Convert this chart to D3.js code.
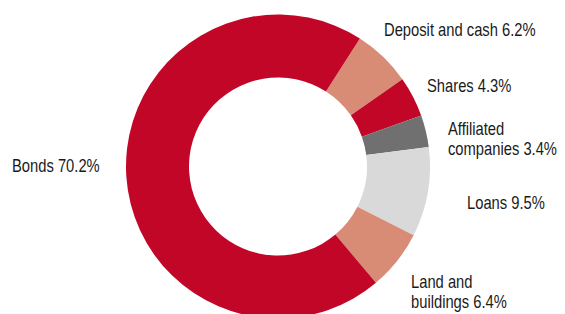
<!DOCTYPE html>
<html lang="en">
<head>
<meta charset="utf-8">
<title>Investment portfolio donut</title>
<script src="https://d3js.org/d3.v7.min.js"></script>
<style>
  body { margin: 0; background: #fff; }
  text { font-family: "Liberation Sans", Arial, sans-serif; fill: #1a1a1a; }
</style>
</head>
<body>
<script>
// ---- data (clockwise, starting at Deposit and cash) ----
var categories = ["Deposit and cash", "Shares", "Affiliated companies", "Loans", "Land and buildings", "Bonds"];
var shares = [6.2, 4.3, 3.4, 9.5, 6.4, 70.2];
// label lines as printed
var labelLines = [
  ["Deposit and cash 6.2%"],
  ["Shares 4.3%"],
  ["Affiliated", "companies 3.4%"],
  ["Loans 9.5%"],
  ["Land and", "buildings 6.4%"],
  ["Bonds 70.2%"]
];
var colors = ["#d88c76", "#c10628", "#707070", "#d9d9d9", "#d88c76", "#c10628"];

// ---- layout ----
var w = 565, h = 314;
var cx = 278, cy = 166.5;
var outerR = 152, innerR = 89;
var startDeg = 32.6;
// label anchor (x, first baseline) per category, and line spacing
var labelAt = [[384, 36], [427, 92], [448, 135], [467, 209], [411, 288], [12, 172]];
var lineGap = 20;
var narrow = 0.82; // squeeze regular sans to look like the condensed face

var svg = d3.select("body").append("svg")
  .attr("width", w)
  .attr("height", h);

var pie = d3.pie()
  .sort(null)
  .value(function(d) { return d; })
  .startAngle(startDeg * Math.PI / 180)
  .endAngle(startDeg * Math.PI / 180 + 2 * Math.PI);

var arc = d3.arc()
  .innerRadius(innerR)
  .outerRadius(outerR);

var g = svg.append("g")
  .attr("transform", "translate(" + cx + "," + cy + ")");

g.selectAll("path")
  .data(pie(shares))
  .enter()
  .append("path")
  .attr("d", arc)
  .attr("fill", function(d, i) { return colors[i]; })
  .append("title")
  .text(function(d, i) { return categories[i]; });

// labels
var labels = svg.selectAll("text.lbl")
  .data(labelLines)
  .enter()
  .append("text")
  .attr("class", "lbl")
  .attr("font-size", 18)
  .attr("transform", function(d, i) {
    return "translate(" + labelAt[i][0] + "," + labelAt[i][1] + ") scale(" + narrow + ",1)";
  });

labels.selectAll("tspan")
  .data(function(d) { return d; })
  .enter()
  .append("tspan")
  .attr("x", 0)
  .attr("dy", function(d, j) { return j === 0 ? 0 : lineGap; })
  .text(function(d) { return d; });
</script>
</body>
</html>
